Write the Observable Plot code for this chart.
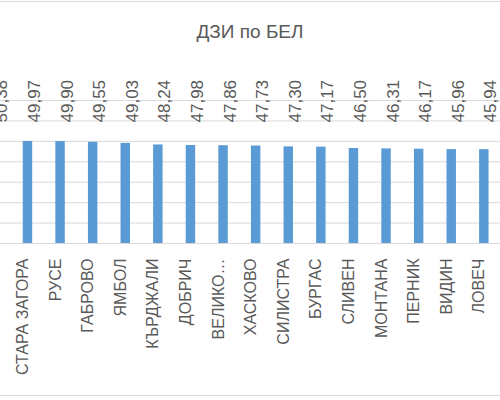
<!DOCTYPE html>
<html>
<head>
<meta charset="utf-8">
<script src="https://cdn.jsdelivr.net/npm/d3@7"></script>
<script src="https://cdn.jsdelivr.net/npm/@observablehq/plot@0.6"></script>
<style>
  html, body { margin: 0; padding: 0; background: #fff; }
  #wrap { position: relative; width: 500px; height: 400px; overflow: hidden; background: #fff;
          font-family: "Liberation Sans", Arial, sans-serif; }
  #title { height: 60px; box-sizing: border-box; padding-top: 21px; text-align: center;
           font-size: 19px; line-height: 22px; color: #595959; }
  .hline { position: absolute; left: 0; width: 500px; height: 1px; background: #d9d9d9; }
  #chart svg { display: block; overflow: hidden; }
</style>
</head>
<body>
<div id="wrap">
  <div class="hline" style="top:1px"></div>
  <div id="title">ДЗИ по БЕЛ</div>
  <div id="chart"></div>
  <div class="hline" style="top:395px"></div>
</div>
<script>
const categories = ["БЛАГОЕВГРАД", "СТАРА ЗАГОРА", "РУСЕ", "ГАБРОВО", "ЯМБОЛ", "КЪРДЖАЛИ", "ДОБРИЧ", "ВЕЛИКО…",
  "ХАСКОВО", "СИЛИСТРА", "БУРГАС", "СЛИВЕН", "МОНТАНА", "ПЕРНИК", "ВИДИН", "ЛОВЕЧ"];
const values = [50.38, 49.97, 49.90, 49.55, 49.03, 48.24, 47.98, 47.86,
  47.73, 47.30, 47.17, 46.50, 46.31, 46.17, 45.96, 45.94];
const yTicks = [0, 10, 20, 30, 40, 50, 60, 70];

const data = categories.map((c, i) => ({name: c, value: values[i]}));
const fmt = v => v.toFixed(2).replace(".", ",");
const grey = "#595959";

const chart = Plot.plot({
  width: 500,
  height: 340,
  marginTop: 40,
  marginBottom: 157,
  marginLeft: 0,
  marginRight: 0,
  style: {fontFamily: "'Liberation Sans', Arial, sans-serif", overflow: "hidden", background: "#fff"},
  x: {type: "band", domain: categories, range: [-33, 511.7], padding: 0.71, round: false, axis: null},
  y: {domain: [0, 70], axis: null},
  marks: [
    Plot.ruleY(yTicks, {stroke: "#d9d9d9", strokeWidth: 1}),
    Plot.barY(data, {x: "name", y: "value", fill: "#5b9bd5"}),
    Plot.text(data, {x: "name", text: d => fmt(d.value), frameAnchor: "top", dy: 22,
      rotate: -90, textAnchor: "start", fontSize: 17, fill: grey}),
    Plot.text(data, {x: "name", text: "name", frameAnchor: "bottom", dy: 15,
      rotate: -90, textAnchor: "end", fontSize: 16, fill: grey})
  ]
});
document.getElementById("chart").appendChild(chart);
</script>
</body>
</html>
